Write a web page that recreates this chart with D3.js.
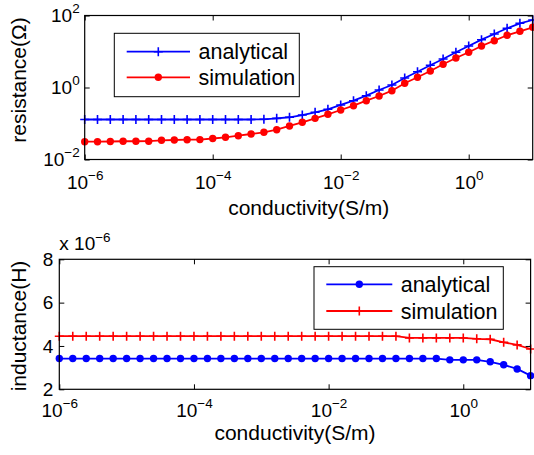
<!DOCTYPE html>
<html><head><meta charset="utf-8">
<script src="https://cdn.jsdelivr.net/npm/d3@7/dist/d3.min.js"></script>
<style>
html,body{margin:0;padding:0;background:#fff;}
svg{display:block;font-family:"Liberation Sans",Arial,Helvetica,sans-serif;}
</style></head>
<body><svg id="c" width="534" height="455"></svg>
<script>
// conductivity (S/m), 36 log-spaced samples
const conductivity = [1e-6,1.585e-6,2.512e-6,3.981e-6,6.310e-6,
  1e-5,1.585e-5,2.512e-5,3.981e-5,6.310e-5,
  1e-4,1.585e-4,2.512e-4,3.981e-4,6.310e-4,
  1e-3,1.585e-3,2.512e-3,3.981e-3,6.310e-3,
  1e-2,1.585e-2,2.512e-2,3.981e-2,6.310e-2,
  1e-1,1.585e-1,2.512e-1,3.981e-1,6.310e-1,
  1e0,1.585,2.512,3.981,6.310,10];
// resistance (Ohm)
const resAnalytical = [0.129,0.129,0.129,0.129,0.129,0.129,0.129,0.129,0.129,0.129,
  0.129,0.129,0.129,0.129,0.131,0.139,0.149,0.172,0.205,0.248,
  0.327,0.430,0.592,0.853,1.17,1.84,2.75,4.14,6.19,9.51,
  14.2,21.3,30.6,44.1,60.7,75.0];
const resSimulation = [0.0312,0.0312,0.0316,0.0321,0.0321,0.0322,0.0341,0.0348,0.0355,0.0357,
  0.0383,0.0414,0.0458,0.0511,0.0570,0.0673,0.0853,0.108,0.139,0.180,
  0.237,0.312,0.430,0.581,0.815,1.31,1.92,2.87,4.41,6.59,
  9.51,14.2,19.95,28.2,36.4,47.0];
// inductance (x 1e-6 H)
const indAnalytical = [3.42,3.42,3.42,3.42,3.42,3.42,3.42,3.42,3.42,3.42,
  3.42,3.42,3.42,3.42,3.42,3.42,3.42,3.42,3.42,3.42,
  3.42,3.42,3.42,3.42,3.42,3.42,3.42,3.42,3.42,3.36,
  3.36,3.36,3.27,3.13,2.94,2.63];
const indSimulation = [4.45,4.45,4.45,4.45,4.45,4.45,4.45,4.45,4.45,4.45,
  4.45,4.45,4.45,4.45,4.45,4.45,4.45,4.45,4.45,4.45,
  4.45,4.45,4.45,4.45,4.45,4.45,4.37,4.37,4.37,4.37,
  4.37,4.33,4.31,4.17,4.05,3.86];
const xTickExp = [-6,-4,-2,0];
const resTickExp = [-2,0,2];
const indTicks = [2,4,6,8];
const seriesNames = ["analytical","simulation"];

const svg = d3.select("#c");
const BLUE="#0000ff", RED="#ff0000";
const FS_TICK=19, FS_SUP=13.5, FS_LAB=21, FS_LEG=21.5;

function supLabel(sel, exp){
  sel.text(null);
  sel.append("tspan").text("10");
  sel.append("tspan").attr("dy",-9).attr("font-size",FS_SUP)
     .text(exp<0 ? "\u2212"+(-exp) : String(exp));
}

function frame(g, xr, yr){
  g.append("rect").attr("x",xr[0]).attr("y",yr[1]).attr("width",xr[1]-xr[0]).attr("height",yr[0]-yr[1])
   .attr("fill","none").attr("stroke","#000").attr("stroke-width",1.2);
}

function markerPlus(g, pts, color){
  g.selectAll(null).data(pts).join("path")
   .attr("d",d=>`M${d[0]-4.5},${d[1]}H${d[0]+4.5}M${d[0]},${d[1]-4.5}V${d[1]+4.5}`)
   .attr("stroke",color).attr("stroke-width",1.6).attr("fill","none");
}
function markerDot(g, pts, color){
  g.selectAll(null).data(pts).join("circle")
   .attr("cx",d=>d[0]).attr("cy",d=>d[1]).attr("r",3.7).attr("fill",color);
}

// ---------- TOP: resistance ----------
{
  const xr=[84.7,532.7], yr=[159.5,15.5];
  const x=d3.scaleLog().domain([1e-6,1e1]).range(xr);
  const y=d3.scaleLog().domain([1e-2,1e2]).range(yr);
  const g=svg.append("g");
  const line=d3.line().x(d=>x(d[0])).y(d=>y(d[1]));
  const a=conductivity.map((c,i)=>[c,resAnalytical[i]]);
  const s=conductivity.map((c,i)=>[c,resSimulation[i]]);
  g.append("path").datum(a).attr("d",line).attr("fill","none").attr("stroke",BLUE).attr("stroke-width",1.8);
  g.append("path").datum(s).attr("d",line).attr("fill","none").attr("stroke",RED).attr("stroke-width",1.8);
  markerPlus(g, a.map(d=>[x(d[0]),y(d[1])]), BLUE);
  markerDot(g, s.map(d=>[x(d[0]),y(d[1])]), RED);
  const xt=xTickExp.map(e=>Math.pow(10,e)), yt=resTickExp.map(e=>Math.pow(10,e));
  const ax=g.append("g").attr("transform",`translate(0,${yr[0]})`)
    .call(d3.axisBottom(x).tickValues(xt).tickSize(-5).tickSizeOuter(0).tickPadding(16));
  ax.selectAll("text").each(function(d){supLabel(d3.select(this), Math.round(Math.log10(d)));});
  g.append("g").attr("transform",`translate(0,${yr[1]})`)
    .call(d3.axisTop(x).tickValues(xt).tickSize(-5).tickSizeOuter(0).tickFormat(""));
  const ay=g.append("g").attr("transform",`translate(${xr[0]},0)`)
    .call(d3.axisLeft(y).tickValues(yt).tickSize(-5).tickSizeOuter(0).tickPadding(5));
  ay.selectAll("text").each(function(d){supLabel(d3.select(this), Math.round(Math.log10(d)));});
  g.append("g").attr("transform",`translate(${xr[1]},0)`)
    .call(d3.axisRight(y).tickValues(yt).tickSize(-5).tickSizeOuter(0).tickFormat(""));
  g.selectAll(".domain").remove();
  g.selectAll(".tick line").attr("stroke","#000");
  g.selectAll(".tick text").attr("fill","#000").attr("font-size",FS_TICK).attr("font-family",null);
  frame(g,xr,yr);
  g.append("text").attr("x",(xr[0]+xr[1])/2).attr("y",215).attr("text-anchor","middle")
   .attr("font-size",FS_LAB).text("conductivity(S/m)");
  g.append("text").attr("transform","translate(26,80) rotate(-90)").attr("text-anchor","middle")
   .attr("font-size",FS_LAB).text("resistance(\u03A9)");
  const lg=g.append("g");
  lg.append("rect").attr("x",114.3).attr("y",33.3).attr("width",185).attr("height",63.4)
    .attr("fill","#fff").attr("stroke","#000").attr("stroke-width",1);
  const ly=[51.7,77.3], cols=[BLUE,RED];
  seriesNames.forEach((n,i)=>{
    lg.append("line").attr("x1",126.7).attr("x2",190).attr("y1",ly[i]).attr("y2",ly[i])
      .attr("stroke",cols[i]).attr("stroke-width",1.8);
    if(i===0) markerPlus(lg,[[158.3,ly[i]]],BLUE); else markerDot(lg,[[158.3,ly[i]]],RED);
    lg.append("text").attr("x",198.5).attr("y",ly[i]+7.5).attr("font-size",FS_LEG).text(n);
  });
}

// ---------- BOTTOM: inductance ----------
{
  const xr=[59.3,530.6], yr=[389.3,259.3];
  const x=d3.scaleLog().domain([1e-6,1e1]).range(xr);
  const y=d3.scaleLinear().domain([2,8]).range(yr);
  const g=svg.append("g");
  const line=d3.line().x(d=>x(d[0])).y(d=>y(d[1]));
  const a=conductivity.map((c,i)=>[c,indAnalytical[i]]);
  const s=conductivity.map((c,i)=>[c,indSimulation[i]]);
  g.append("path").datum(a).attr("d",line).attr("fill","none").attr("stroke",BLUE).attr("stroke-width",1.8);
  g.append("path").datum(s).attr("d",line).attr("fill","none").attr("stroke",RED).attr("stroke-width",1.8);
  markerDot(g, a.map(d=>[x(d[0]),y(d[1])]), BLUE);
  markerPlus(g, s.map(d=>[x(d[0]),y(d[1])]), RED);
  const xt=xTickExp.map(e=>Math.pow(10,e));
  const ax=g.append("g").attr("transform",`translate(0,${yr[0]})`)
    .call(d3.axisBottom(x).tickValues(xt).tickSize(-5).tickSizeOuter(0).tickPadding(14));
  ax.selectAll("text").each(function(d){supLabel(d3.select(this), Math.round(Math.log10(d)));});
  g.append("g").attr("transform",`translate(0,${yr[1]})`)
    .call(d3.axisTop(x).tickValues(xt).tickSize(-5).tickSizeOuter(0).tickFormat(""));
  g.append("g").attr("transform",`translate(${xr[0]},0)`)
    .call(d3.axisLeft(y).tickValues(indTicks).tickSize(-5).tickSizeOuter(0).tickPadding(6).tickFormat(d3.format("d")));
  g.append("g").attr("transform",`translate(${xr[1]},0)`)
    .call(d3.axisRight(y).tickValues(indTicks).tickSize(-5).tickSizeOuter(0).tickFormat(""));
  g.selectAll(".domain").remove();
  g.selectAll(".tick line").attr("stroke","#000");
  g.selectAll(".tick text").attr("fill","#000").attr("font-size",FS_TICK).attr("font-family",null);
  frame(g,xr,yr);
  const m=g.append("text").attr("x",59.3).attr("y",250).attr("font-size",FS_TICK);
  m.append("tspan").text("x 10");
  m.append("tspan").attr("dy",-8).attr("font-size",FS_SUP).text("\u22126");
  g.append("text").attr("x",(xr[0]+xr[1])/2).attr("y",440).attr("text-anchor","middle")
   .attr("font-size",FS_LAB).text("conductivity(S/m)");
  g.append("text").attr("transform","translate(26,326) rotate(-90)").attr("text-anchor","middle")
   .attr("font-size",FS_LAB).text("inductance(H)");
  const lg=g.append("g");
  lg.append("rect").attr("x",314).attr("y",266.7).attr("width",189.3).attr("height",62.6)
    .attr("fill","#fff").attr("stroke","#000").attr("stroke-width",1);
  const ly=[284.3,311], cols=[BLUE,RED];
  seriesNames.forEach((n,i)=>{
    lg.append("line").attr("x1",326.3).attr("x2",392.3).attr("y1",ly[i]).attr("y2",ly[i])
      .attr("stroke",cols[i]).attr("stroke-width",1.8);
    if(i===0) markerDot(lg,[[359.3,ly[i]]],BLUE); else markerPlus(lg,[[359.3,ly[i]]],RED);
    lg.append("text").attr("x",400.7).attr("y",ly[i]+7.5).attr("font-size",FS_LEG).text(n);
  });
}
</script></body></html>
